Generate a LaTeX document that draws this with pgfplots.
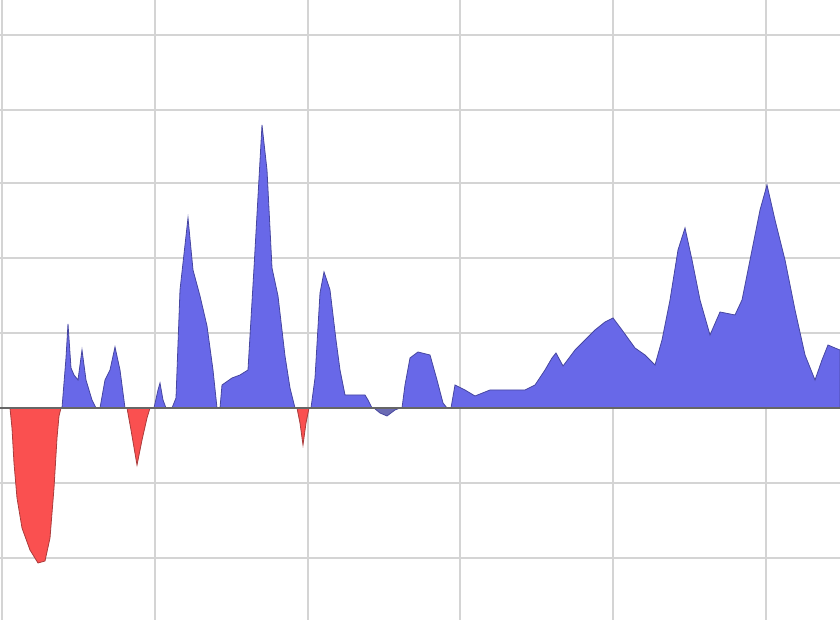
\documentclass[border=0pt]{standalone}
\usepackage{pgfplots}
\pgfplotsset{compat=1.18}
\definecolor{posfill}{RGB}{104,104,232}
\definecolor{posline}{RGB}{70,70,160}
\definecolor{negfill}{RGB}{250,80,80}
\definecolor{negline}{RGB}{170,60,60}
\definecolor{gridc}{RGB}{212,212,212}
\begin{document}
\begin{tikzpicture}
\begin{axis}[
  scale only axis,
  width=420pt, height=310pt,
  xmin=0, xmax=840, ymin=-212, ymax=408,
  axis line style={draw=none},
  major tick length=0pt,
  xtick={2,155,308,460,613,766},
  ytick={-150,-75,0,75,150,225,298,373},
  xticklabels={}, yticklabels={},
  grid=major,
  grid style={gridc, line width=1.2pt},
]
% negative parts
\addplot[fill=negfill, draw=negline, line width=0.4pt] coordinates {
(10,0) (12,-20) (14,-55) (17,-90) (22,-120) (30,-142) (38,-155) (45,-153) (50,-130) (54,-80) (57,-30) (59,-8) (61,0)
} \closedcycle;
\addplot[fill=negfill, draw=negline, line width=0.4pt] coordinates {
(127,0) (131,-22) (137,-57) (142,-32) (147,-10) (150,0)
} \closedcycle;
\addplot[fill=negfill, draw=negline, line width=0.4pt] coordinates {
(297,0) (300,-15) (303,-37) (306,-15) (309,0)
} \closedcycle;
\addplot[fill=posline!80, draw=posline, line width=0.4pt] coordinates {
(374,0) (380,-5) (387,-8) (395,-2) (400,0)
} \closedcycle;
% positive part
\addplot[fill=posfill, draw=posline, line width=0.4pt] coordinates {
(62,0) (66,50) (68,84) (71,40) (74,33) (78,28) (82,58) (86,28) (92,8) (96,0)
(100,0) (105,28) (110,38) (115,61) (120,38) (125,0)
(154,0) (158,18) (160,25) (163,8) (166,0)
(172,0) (176,10) (180,118) (188,190) (193,138) (200,112) (207,82) (213,38) (217,0)
(220,0) (222,23) (232,30) (240,33) (248,38) (254,140) (262,283) (267,238) (272,140) (278,112) (285,52) (290,20) (295,0)
(311,0) (315,30) (320,115) (324,136) (330,118) (336,68) (340,38) (345,13) (355,13) (365,13) (368,8) (372,0)
(402,0) (405,23) (410,50) (418,56) (430,53) (437,28) (443,5) (447,0)
(451,0) (455,23) (465,18) (475,12) (490,18) (510,18) (525,18) (535,23) (545,38) (552,50) (556,55) (563,42) (575,58) (585,68) (595,78) (605,86) (613,90) (622,78) (635,60) (645,53) (655,43) (662,68) (670,108) (678,158) (685,180) (692,148) (700,108) (710,73) (720,96) (735,93) (742,108) (750,148) (760,198) (767,223) (775,188) (785,148) (795,98) (805,53) (815,28) (822,48) (828,63) (835,60) (840,58) (840,0)
} \closedcycle;
\addplot[draw=black!60, line width=1.4pt] coordinates {(0,0) (840,0)};
\end{axis}
\pgfresetboundingbox
\path[use as bounding box] (current axis.south west) rectangle (current axis.north east);
\end{tikzpicture}
\end{document}
